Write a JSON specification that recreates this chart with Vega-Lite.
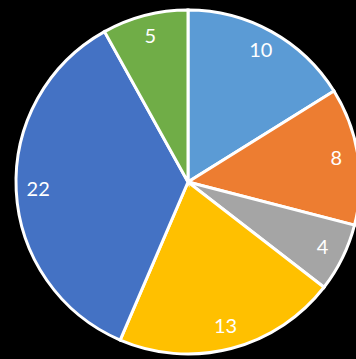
{
  "$schema": "https://vega.github.io/schema/vega-lite/v6.json",
  "width": 376,
  "height": 364,
  "autosize": "none",
  "padding": 0,
  "background": "#000000",
  "view": {"stroke": null},
  "data": {"values": [
    {"k": "A", "v": 10, "o": 1},
    {"k": "B", "v": 8, "o": 2},
    {"k": "C", "v": 4, "o": 3},
    {"k": "D", "v": 13, "o": 4},
    {"k": "E", "v": 22, "o": 5},
    {"k": "F", "v": 5, "o": 6}
  ]},
  "encoding": {
    "theta": {"field": "v", "type": "quantitative", "stack": true},
    "order": {"field": "o", "type": "quantitative"},
    "color": {"field": "k", "type": "nominal", "legend": null,
      "scale": {"domain": ["A","B","C","D","E","F"], "range": ["#5B9BD5","#ED7D31","#A5A5A5","#FFC000","#4472C4","#70AD47"]}}
  },
  "layer": [
    {"mark": {"type": "arc", "outerRadius": 172, "stroke": "#ffffff", "strokeWidth": 3}},
    {"mark": {"type": "text", "radius": 150, "fontSize": 20, "font": "Lato", "fill": "#ffffff", "baseline": "middle", "align": "center"},
     "encoding": {"text": {"field": "v", "type": "quantitative"}, "color": {"value": "#ffffff"}}}
  ]
}
